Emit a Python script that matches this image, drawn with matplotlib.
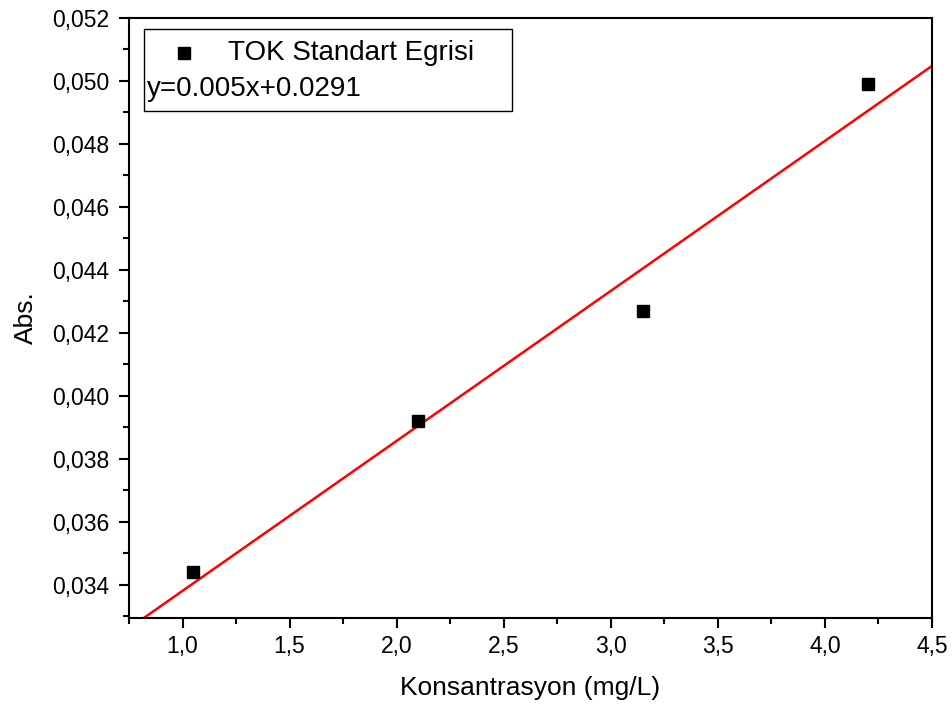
import numpy as np
import matplotlib.pyplot as plt
from matplotlib.ticker import FuncFormatter, MultipleLocator
from matplotlib.patches import Rectangle

plt.rcParams["font.family"] = ["Liberation Sans", "DejaVu Sans"]

# Veriler
konsantrasyon = [1.05, 2.1, 3.15, 4.2]
absorbans = [0.0344, 0.0392, 0.0427, 0.0499]
etiket = "TOK Standart Egrisi"
denklem = "y=0.005x+0.0291"

# Doğrusal uyum
egim, kesim = np.polyfit(konsantrasyon, absorbans, 1)
x_dogru = np.array([0.75, 4.5])

fig = plt.figure(figsize=(9.52, 7.11), dpi=100)
ax = fig.add_axes([0.1355, 0.1308, 0.8435, 0.8439])

ax.plot(x_dogru, egim * x_dogru + kesim, color="red", linewidth=1.8, zorder=2)
ax.plot(konsantrasyon, absorbans, linestyle="none", marker="s",
        markersize=8, color="black", zorder=3)

ax.set_xlim(0.75, 4.5)
ax.set_ylim(0.03295, 0.052)

ax.xaxis.set_major_locator(MultipleLocator(0.5))
ax.xaxis.set_minor_locator(MultipleLocator(0.25))
ax.yaxis.set_major_locator(MultipleLocator(0.002))
ax.yaxis.set_minor_locator(MultipleLocator(0.001))
ax.xaxis.set_major_formatter(FuncFormatter(lambda v, p: f"{v:.1f}".replace(".", ",")))
ax.yaxis.set_major_formatter(FuncFormatter(lambda v, p: f"{v:.3f}".replace(".", ",")))

ax.tick_params(axis="both", which="major", direction="out", length=7,
               width=1.5, labelsize=16.5, colors="black", pad=5)
ax.tick_params(axis="y", which="major", pad=7)
ax.tick_params(axis="both", which="minor", direction="out", length=4.5, width=1.5)
for kenar in ax.spines.values():
    kenar.set_linewidth(1.5)

ax.set_xlabel("Konsantrasyon (mg/L)", fontsize=19, labelpad=13)
ax.set_ylabel("Abs.", fontsize=19, labelpad=10)

# Gösterge kutusu
ax.add_patch(Rectangle((0.0187, 0.845), 0.458, 0.137, transform=ax.transAxes,
                       facecolor="white", edgecolor="black", linewidth=1.0,
                       zorder=4))
ax.plot([0.068], [0.941], transform=ax.transAxes, marker="s", markersize=8,
        color="black", linestyle="none", zorder=5, clip_on=False)
ax.text(0.123, 0.941, etiket, transform=ax.transAxes, fontsize=20,
        va="center", ha="left", zorder=5)
ax.text(0.022, 0.882, denklem, transform=ax.transAxes, fontsize=20,
        va="center", ha="left", zorder=5)

fig.savefig("out.png", dpi=100)
